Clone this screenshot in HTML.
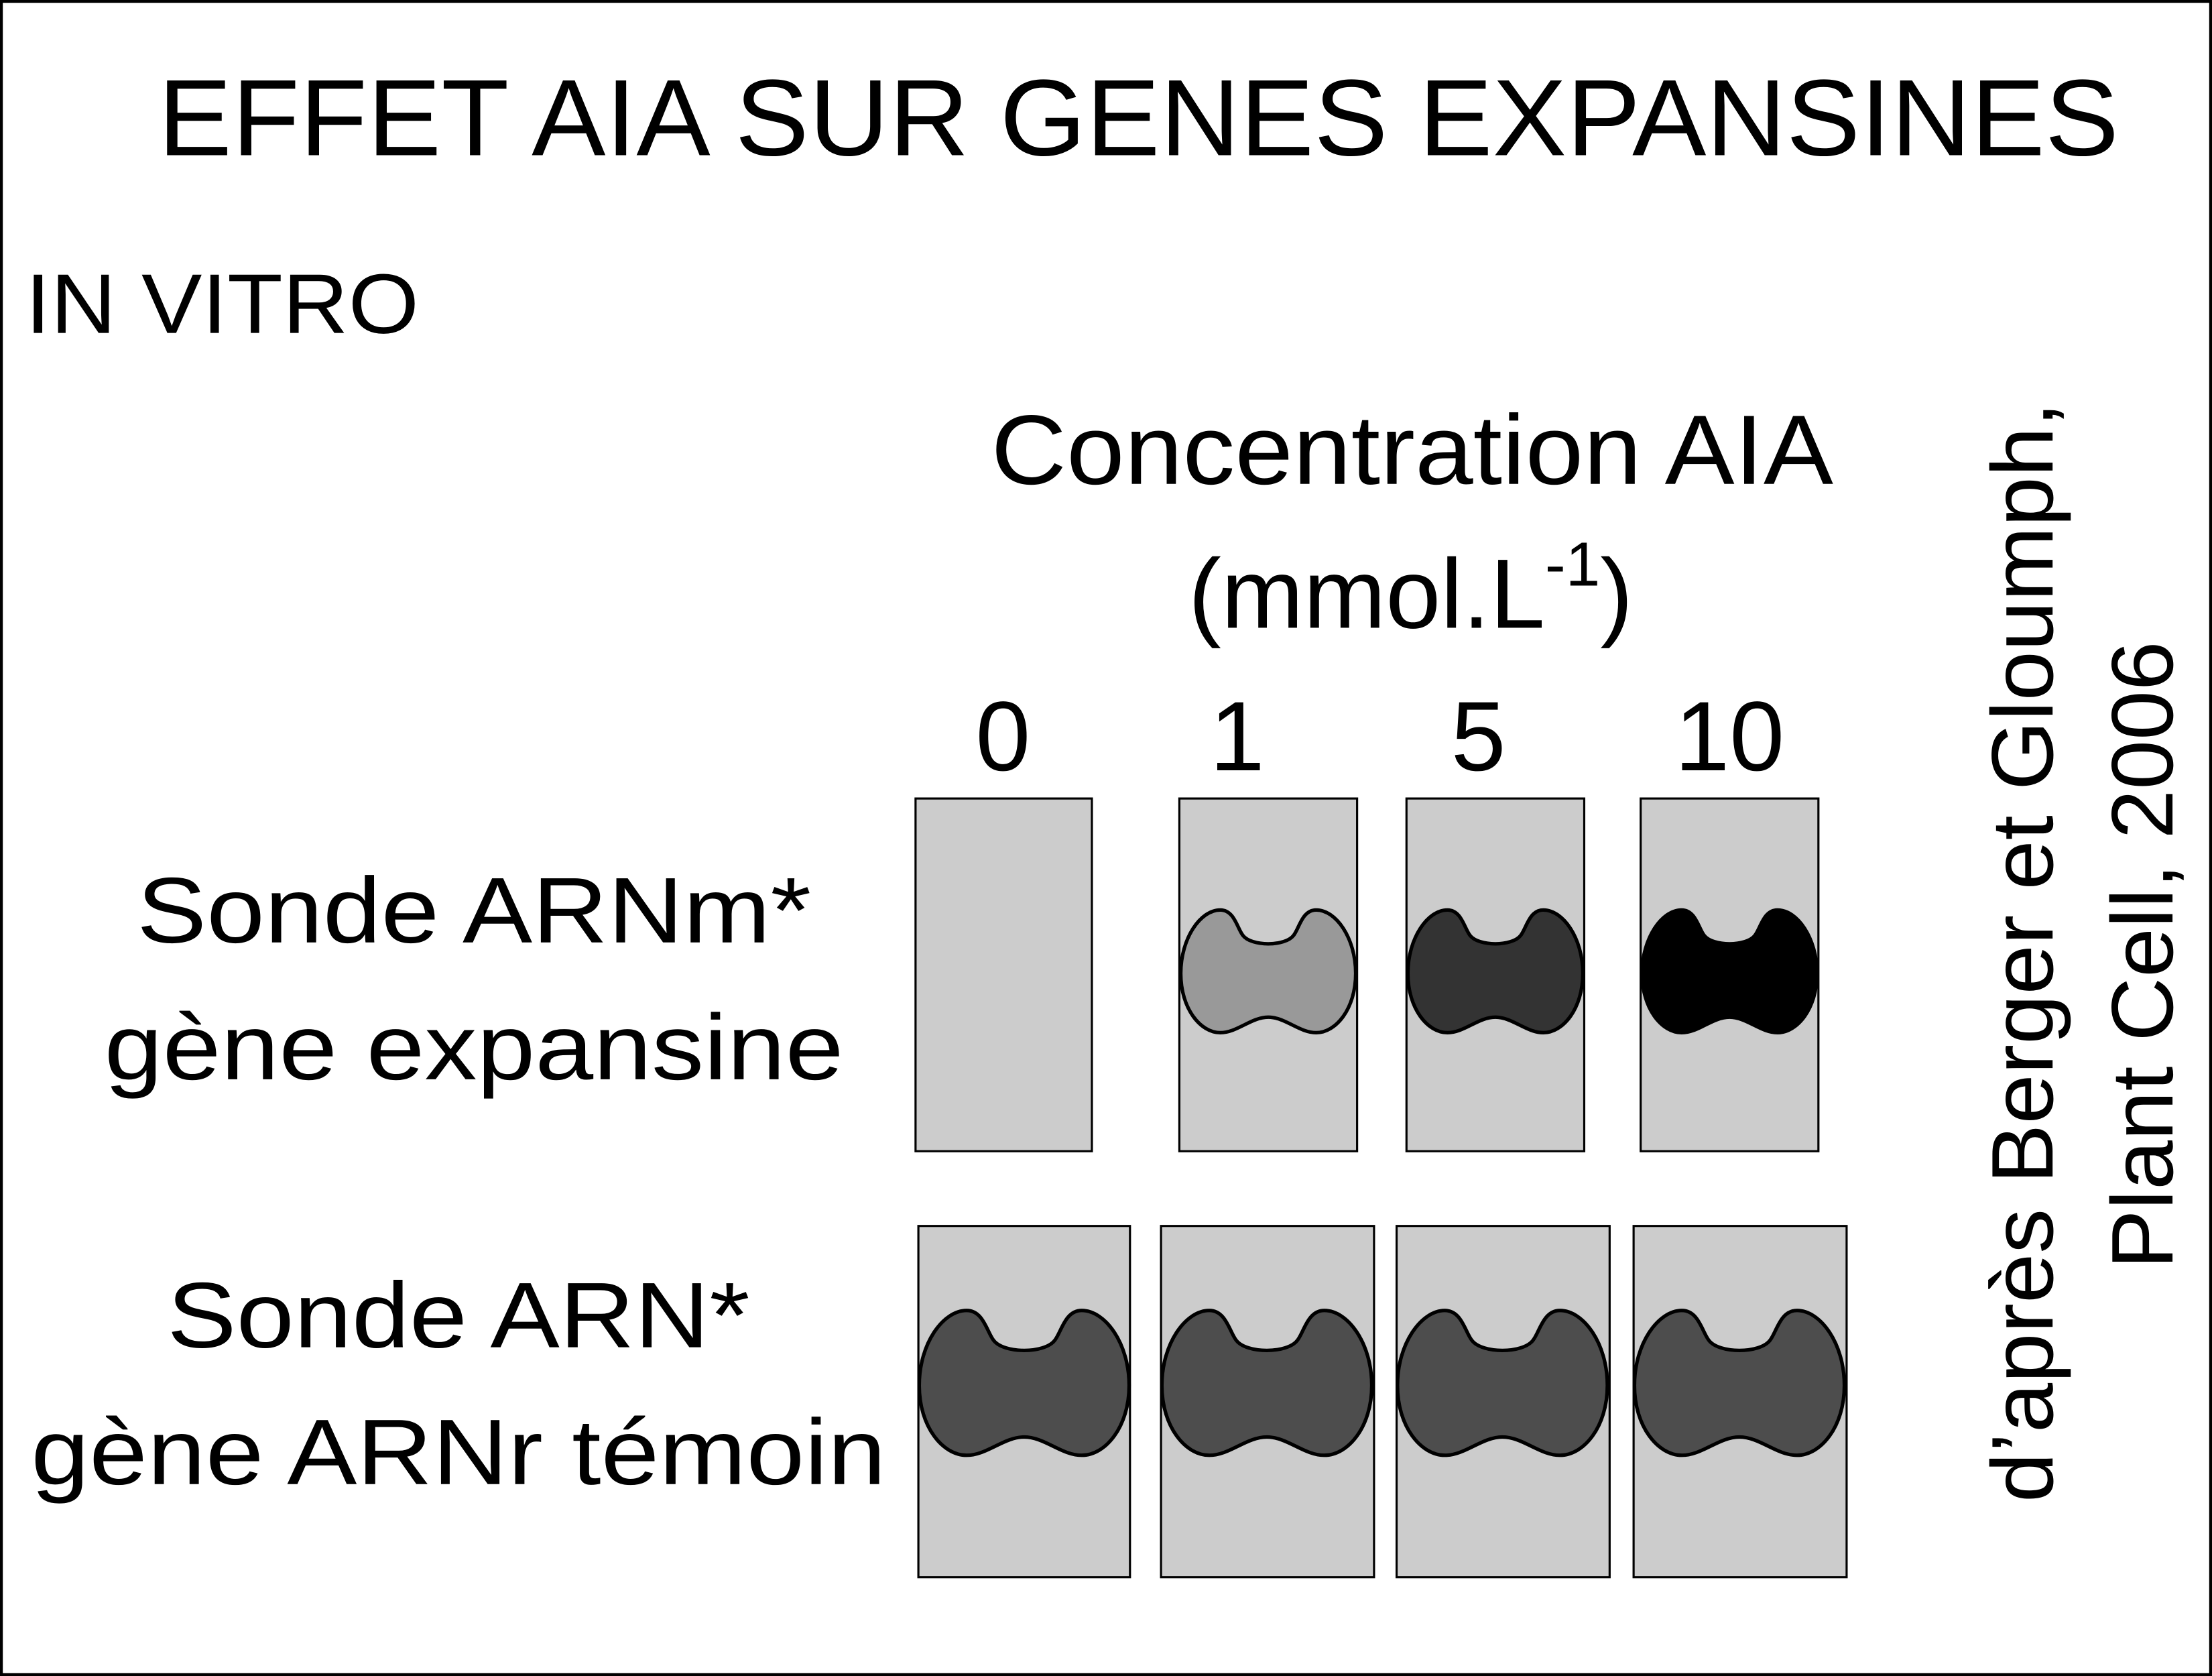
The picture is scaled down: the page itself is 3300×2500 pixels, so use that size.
<!DOCTYPE html>
<html><head><style>html,body{margin:0;padding:0;background:#fff}svg{display:block}</style></head>
<body>
<svg width="3300" height="2500" viewBox="0 0 1568 1188" preserveAspectRatio="none" xmlns="http://www.w3.org/2000/svg" font-family="Liberation Sans, sans-serif">
<defs>
<path id="b" d="M -62 0 C -62 -25 -48 -45 -34 -45 C -24 -45 -22 -32 -18 -27 C -12 -19 12 -19 18 -27 C 22 -32 24 -45 34 -45 C 48 -45 62 -25 62 0 C 62 25 48 42 34 42 C 22 42 12 31 0 31 C -12 31 -22 42 -34 42 C -48 42 -62 25 -62 0 Z"/>
</defs>
<rect x="1" y="1" width="1566" height="1186" fill="#fff" stroke="#000" stroke-width="2"/>
<text x="807" y="110" font-size="77" text-anchor="middle" textLength="1390" lengthAdjust="spacingAndGlyphs">EFFET AIA SUR GENES EXPANSINES</text>
<text x="18" y="236" font-size="60" textLength="279" lengthAdjust="spacingAndGlyphs">IN VITRO</text>
<text x="1001" y="343" font-size="70" text-anchor="middle" textLength="597" lengthAdjust="spacingAndGlyphs">Concentration AIA</text>
<text x="1000" y="445" font-size="70" text-anchor="middle">(mmol.L<tspan font-size="44" dy="-30">-1</tspan><tspan dy="30">)</tspan></text>
<g font-size="70" text-anchor="middle">
<text x="711" y="546">0</text><text x="877" y="546">1</text><text x="1048" y="546">5</text><text x="1226" y="546">10</text>
</g>
<g font-size="66" text-anchor="middle" lengthAdjust="spacingAndGlyphs">
<text x="336" y="668" textLength="478" lengthAdjust="spacingAndGlyphs">Sonde ARNm*</text>
<text x="336" y="765" textLength="524" lengthAdjust="spacingAndGlyphs">gène expansine</text>
<text x="325" y="955" textLength="413" lengthAdjust="spacingAndGlyphs">Sonde ARN*</text>
<text x="325" y="1052" textLength="606" lengthAdjust="spacingAndGlyphs">gène ARNr témoin</text>
</g>
<g font-size="62" text-anchor="middle">
<text transform="translate(1455,675) rotate(-90)" textLength="780" lengthAdjust="spacingAndGlyphs">d’après Berger et Gloumph,</text>
<text transform="translate(1540,677) rotate(-90)" textLength="445" lengthAdjust="spacingAndGlyphs">Plant Cell, 2006</text>
</g>
<g fill="#ccc" stroke="#000" stroke-width="1.5">
<rect x="649" y="566" width="125" height="250"/>
<rect x="836" y="566" width="126" height="250"/>
<rect x="997" y="566" width="126" height="250"/>
<rect x="1163" y="566" width="126" height="250"/>
<rect x="651" y="869" width="150" height="249"/>
<rect x="823" y="869" width="151" height="249"/>
<rect x="990" y="869" width="151" height="249"/>
<rect x="1158" y="869" width="151" height="249"/>
</g>
<g stroke="#000" stroke-width="2.5">
<use href="#b" transform="translate(899,690)" fill="#999"/>
<use href="#b" transform="translate(1060,690)" fill="#333"/>
<use href="#b" transform="translate(1226,690)" fill="#000"/>
<g fill="#4d4d4d">
<use href="#b" transform="translate(726,982) scale(1.2,1.18)" stroke-width="2.1"/>
<use href="#b" transform="translate(898,982) scale(1.2,1.18)" stroke-width="2.1"/>
<use href="#b" transform="translate(1065,982) scale(1.2,1.18)" stroke-width="2.1"/>
<use href="#b" transform="translate(1233,982) scale(1.2,1.18)" stroke-width="2.1"/>
</g>
</g>
</svg>
</body></html>
